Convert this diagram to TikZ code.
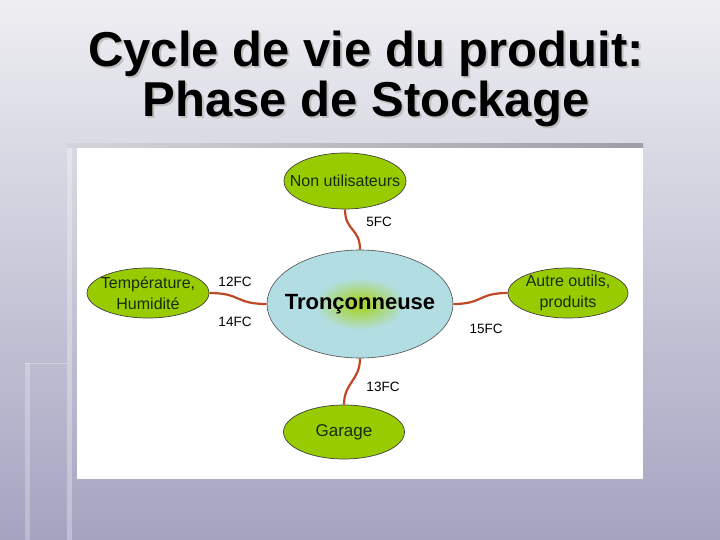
\documentclass[tikz,border=0pt]{standalone}
\usepackage{fontspec}
\setmainfont{Liberation Sans}
\usetikzlibrary{shapes.geometric}
\definecolor{bgtop}{RGB}{238,238,242}
\definecolor{bgbot}{RGB}{164,164,193}
\definecolor{barlight}{RGB}{212,212,220}
\definecolor{bardark}{RGB}{158,158,168}
\definecolor{leafgreen}{RGB}{153,204,0}
\definecolor{leaftxt}{RGB}{24,44,12}
\definecolor{hubblue}{RGB}{178,221,226}
\definecolor{hubgreen}{RGB}{165,212,40}
\definecolor{linkred}{RGB}{192,72,38}
\pgfdeclareradialshading{hubshade}{\pgfpoint{0bp}{0bp}}{color(0bp)=(hubgreen); color(3bp)=(hubgreen!85!hubblue); color(12bp)=(hubblue); color(25bp)=(hubblue); color(50bp)=(hubblue)}
\begin{document}
\begin{tikzpicture}[x=1pt, y=-1pt,
  leaf/.style={ellipse, draw=black!75, line width=0.7pt, fill=leafgreen, inner sep=0pt},
  leaftext/.style={text=leaftxt, font=\fontsize{16}{21}\selectfont, align=center},
  hub/.style={ellipse, draw=black!70, line width=0.6pt, shading=hubshade, inner sep=0pt, minimum width=186pt, minimum height=108pt},
  link/.style={linkred, line width=2.2pt},
  fc/.style={font=\fontsize{13.5}{16}\selectfont},
  title/.style={font=\fontsize{49}{52}\selectfont\bfseries, anchor=base}]
\useasboundingbox (0,0) rectangle (720,540);
% slide background
\shade [top color=bgtop, bottom color=bgbot] (0,0) rectangle (720,540);
\fill [white, opacity=0.3] (67,144) rectangle (72,540);
\fill [white, opacity=0.25] (25,363) rectangle (30,540);
\draw [white, opacity=0.3] (25,363) -- (67,363);
% title
\foreach \ttl/\yy/\nm in {{Cycle de vie du produit:}/67/tline1, {Phase de Stockage}/117/tline2}{
\node [title, black!25] at (368,\yy+2) {\ttl};
\node [title] (\nm) at (366,\yy) {\ttl};
}
% picture frame
\shade [left color=barlight, right color=bardark] (67,144) rectangle (643,148);
\fill [white] (77,148) rectangle (643,479);
% ellipses
\node [hub] (hub) at (360,304) {};
\node [font=\fontsize{22}{24}\selectfont\bfseries] (hubtext) at (hub) {Tronçonneuse};
\node [leaf, minimum width=122pt, minimum height=56pt] (nonu) at (345,181) {};
\node [leaftext] (nonutext) at (nonu) {Non utilisateurs};
\node [leaf, minimum width=122pt, minimum height=50pt] (temp) at (148,293) {};
\node [leaftext] (temptext) at (temp) {Température,\\Humidité};
\node [leaf, minimum width=120pt, minimum height=50pt] (autre) at (568,293) {};
\node [leaftext] (autretext) at (autre) {Autre outils,\\produits};
\node [leaf, minimum width=121pt, minimum height=54pt] (garage) at (344,432) {};
\node [leaftext, font=\fontsize{17}{20}\selectfont] (garagetext) at (garage) {Garage};
% links
\draw [link] (nonu.south) .. controls +(0,22) and +(0,-22) .. (hub.north);
\draw [link] (temp.east) .. controls +(32,0) and +(-32,0) .. (hub.west);
\draw [link] (hub.east) .. controls +(30,0) and +(-30,0) .. (autre.west);
\draw [link] (hub.south) .. controls +(0,22) and +(0,-22) .. (garage.north);
% labels
\node [fc] (fc5) at (379,222) {5FC};
\node [fc] (fc12) at (235,282) {12FC};
\node [fc] (fc14) at (235,322) {14FC};
\node [fc] (fc15) at (486,329) {15FC};
\node [fc] (fc13) at (383,387) {13FC};
\end{tikzpicture}
\end{document}
